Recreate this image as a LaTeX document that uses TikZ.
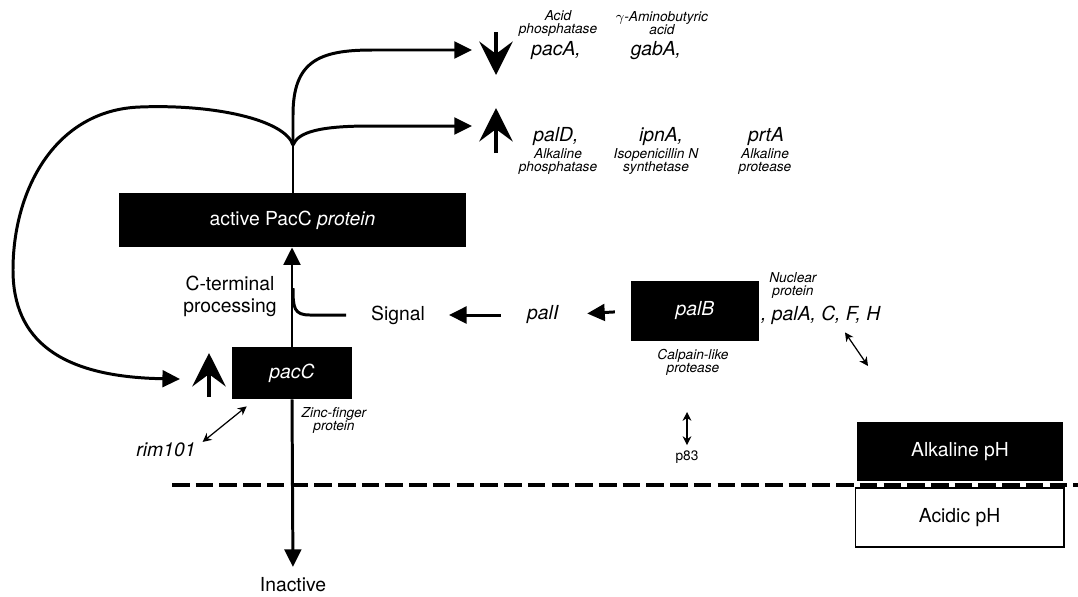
\documentclass[tikz,border=0pt]{standalone}
\usepackage{fontspec}
\setmainfont{TeX Gyre Heros}
\usepackage{tikz}
\usetikzlibrary{arrows.meta}
\newcommand{\mainsize}{\fontsize{11}{12.5}\selectfont}
\newcommand{\notesize}{\fontsize{7.8}{7.4}\selectfont}

\begin{document}
\begin{tikzpicture}[x=0.02cm,y=-0.02cm]
\useasboundingbox (0,0) rectangle (1078,596);

% black boxes
\begin{scope}[every node/.style={fill=black,text=white,inner sep=0pt,font=\mainsize}]
    \node[minimum width=6.94cm,minimum height=1.08cm] (active) at (292.5,220) {active PacC \textit{protein}};
    \node[minimum width=2.4cm,minimum height=1.04cm] (pacC) at (292,373) {\textit{pacC}};
    \node[minimum width=2.56cm,minimum height=1.2cm] (palB) at (695,311) {\textit{palB}};
    \node[minimum width=4.12cm,minimum height=1.18cm] (alkali) at (960,451.5) {Alkaline pH};
\end{scope}
\node[draw=black,line width=0.6pt,inner sep=0pt,minimum width=4.18cm,minimum height=1.18cm,font=\mainsize] (acidic) at (959.5,517.5) {Acidic pH};

% genes and labels
\begin{scope}[every node/.style={font=\mainsize,inner sep=1pt}]
    \node (signal) at (398,315) {Signal};
    \node (palI) at (543,315) {\textit{palI}};
    \node[align=center] (cterm) at (230,296) {C-terminal\\processing};
    \node (inactive) at (293,585) {Inactive};
    \node (rim) at (166,450) {\textit{rim101}};
    \node (palA) at (821,315) {\textit{, palA, C, F, H}};
    \node (pacA) at (556,51) {\textit{pacA,}};
    \node (gabA) at (656,51) {\textit{gabA,}};
    \node (palD) at (556,137) {\textit{palD,}};
    \node (ipnA) at (661,137) {\textit{ipnA,}};
    \node (prtA) at (766,137) {\textit{prtA}};
\end{scope}

% protein notes
\begin{scope}[every node/.style={font=\notesize\itshape,align=center,inner sep=0pt}]
    \node (acidph) at (558,23) {Acid\\phosphatase};
    \node (gaba) at (662,23) {$\gamma$-Aminobutyric\\acid};
    \node (alkph) at (558,161) {Alkaline\\phosphatase};
    \node (ipn) at (656,161) {Isopenicillin N\\synthetase};
    \node (alkpro) at (765,161) {Alkaline\\protease};
    \node (nuclear) at (793,285) {Nuclear\\protein};
    \node (calpain) at (693,362) {Calpain-like\\protease};
    \node (zinc) at (334,420) {Zinc-finger\\protein};
\end{scope}
\node[font=\notesize,inner sep=1pt] (p83) at (687,457) {p83};

\coordinate (j) at (293,145);
\coordinate (downtip) at (472,50);
\coordinate (uptip) at (472,126);
\coordinate (looptip) at (180,379);
\coordinate (p83top) at (687,412);
\coordinate (pHend) at (868,366);

% up / down regulation
\begin{scope}[line width=2.6pt, >={Stealth[length=19pt,width=19pt,inset=7pt]}]
    \draw[->] (496,32) -- (496,75);
    \draw[->] (496,153) -- (496,108);
    \draw[->] (209,397) -- (209,353);
\end{scope}

\begin{scope}[line width=1.7pt, >={Triangle[length=10pt,width=9.5pt]}]
    \draw[->] (pacC.north) -- (pacC.north |- active.south);
    \draw[->, shorten >=5pt] (pacC.south) -- (inactive.north);
    \draw (active.north -| j) -- (j);
    \draw[->] (j) -- (293,115) .. controls (293,62) and (318,50) .. (372,50) -- (downtip);
    \draw[->] (j) .. controls (298,132) and (320,126) .. (370,126) -- (uptip);
    \draw[->] (j) .. controls (285,120) and (215,104) .. (140,107)
        .. controls (55,110) and (13,190) .. (13,270)
        .. controls (13,340) and (60,377) .. (looptip);
    \draw[shorten <=13pt] (signal.west) -- (310,315) .. controls (294,315) and (293,308) .. (293,288);
    \draw[->, shorten <=14pt, shorten >=12.5pt] (palI.west) -- (signal.east);
    \draw[->, shorten <=9pt, shorten >=15pt] (palB.west) -- (palI.east);
\end{scope}

\begin{scope}[line width=0.7pt, >={Stealth[length=5pt,width=5pt]}]
    \draw[<->] ([shift={(5,1)}]rim.north east) -- ([shift={(15,7)}]pacC.south west);
    \draw[<->] ([shift={(24,6)}]palA.south) -- (pHend);
    \draw[<->, shorten <=2pt] (p83.north) -- (p83top);
\end{scope}

\draw[line width=2.3pt, dash pattern=on 10pt off 3.5pt] (172,485) -- (1078,485);
\end{tikzpicture}
\end{document}
